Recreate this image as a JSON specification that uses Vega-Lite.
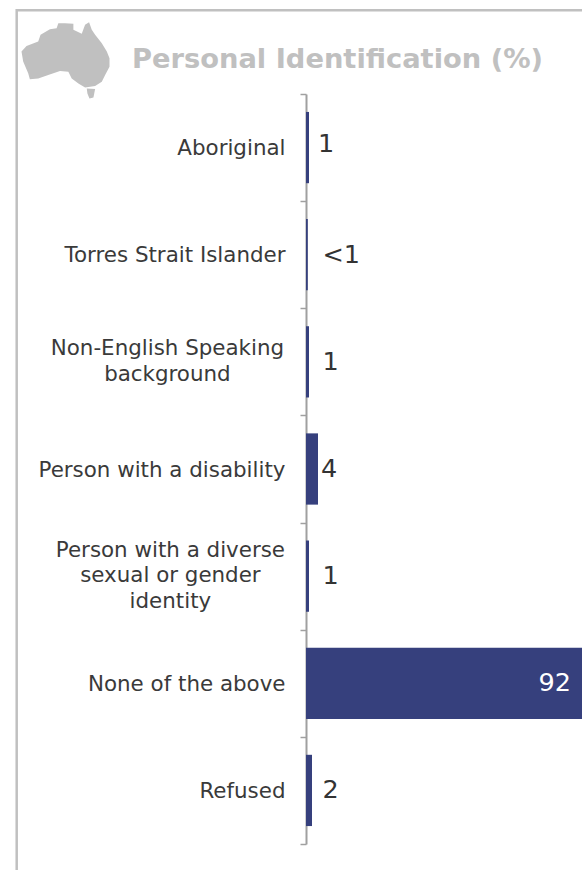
{
"$schema":"https://vega.github.io/schema/vega-lite/v6.json",
"width":276,"height":750,
"autosize":"none",
"padding":{"left":306,"top":94,"right":0,"bottom":26},
"background":"white",
"view":{"stroke":null},
"layer":[
{"data":{"name":"rows","values":[
{"category":"Aboriginal","value":1,"label":"1"},
{"category":"Torres Strait Islander","value":0.6,"label":"<1"},
{"category":"Non-English Speaking\nbackground","value":1,"label":"1"},
{"category":"Person with a disability","value":4,"label":"4"},
{"category":"Person with a diverse\nsexual or gender\nidentity","value":1,"label":"1"},
{"category":"None of the above","value":92,"label":"92"},
{"category":"Refused","value":2,"label":"2"}
]},
"mark":{"type":"bar","color":"#36407d","clip":false,"height":{"band":0.665}},"encoding":{"x":{"field":"value","type":"quantitative","scale":{"domain":[0,92],"nice":false},"axis":null},
"y":{"field":"category","type":"nominal","sort":null,"scale":{"padding":0},
"axis":{"title":null,"tickBand":"extent","labelExpr":"indexof(datum.label,'\\n')>=0?'':datum.label","labelFont":"DejaVu Sans","labelFontSize":21.4,"labelColor":"#3a3a3a","labelLimit":300,"labelPadding":15,"labelOffset":1,"tickSize":6,"tickColor":"#a0a0a0","tickWidth":1.5,"domainColor":"#a0a0a0","domainWidth":2,"grid":false}}}},
{"data":{"name":"rows"},"transform":[{"filter":"length(split(datum.category,'\\n'))==2"}],"mark":{"type":"text","align":"center","baseline":"middle","lineBreak":"\n","lineHeight":25.5,"font":"DejaVu Sans","fontSize":21.4,"color":"#3a3a3a","dy":-12.75},"encoding":{"text":{"field":"category"},"x":{"datum":-46.2},"y":{"field":"category","type":"nominal","sort":null}}},
{"data":{"name":"rows"},"transform":[{"filter":"length(split(datum.category,'\\n'))==3"}],"mark":{"type":"text","align":"center","baseline":"middle","lineBreak":"\n","lineHeight":25.5,"font":"DejaVu Sans","fontSize":21.4,"color":"#3a3a3a","dy":-25.5},"encoding":{"text":{"field":"category"},"x":{"datum":-45.2},"y":{"field":"category","type":"nominal","sort":null}}},
{"data":{"name":"rows"},"transform":[{"filter":"datum.category=='Aboriginal'"}],"mark":{"type":"text","align":"left","font":"DejaVu Sans","fontSize":25.5,"color":"#333333","dy":-4},"encoding":{"text":{"field":"label"},"x":{"datum":4.0},"y":{"field":"category","type":"nominal","sort":null}}},
{"data":{"name":"rows"},"transform":[{"filter":"datum.value<10 && datum.category!='Aboriginal' && datum.value!=4"}],"mark":{"type":"text","align":"left","font":"DejaVu Sans","fontSize":25.5,"color":"#333333"},"encoding":{"text":{"field":"label"},"x":{"datum":5.5},"y":{"field":"category","type":"nominal","sort":null}}},
{"data":{"name":"rows"},"transform":[{"filter":"datum.value==4"}],"mark":{"type":"text","align":"left","font":"DejaVu Sans","fontSize":25.5,"color":"#333333"},"encoding":{"text":{"field":"label"},"x":{"datum":5.0},"y":{"field":"category","type":"nominal","sort":null}}},
{"data":{"name":"rows"},"transform":[{"filter":"datum.value>10"}],"mark":{"type":"text","align":"right","font":"DejaVu Sans","fontSize":25.5,"color":"white","dx":-11},"encoding":{"text":{"field":"label"},"x":{"field":"value","type":"quantitative"},"y":{"field":"category","type":"nominal","sort":null}}},
{"data":{"values":[{"title":"Personal Identification (%)"}]},"mark":{"type":"text","align":"left","font":"DejaVu Sans","fontSize":27.3,"fontWeight":"bold","color":"#c0c0c0"},"encoding":{"text":{"field":"title"},"x":{"value":-174},"y":{"value":-34}}},
{"data":{"values":[{"shape":"australia"}]},"mark":{"type":"point","filled":true,"opacity":1,"color":"#c0c0c0","size":7744,"clip":false,"shape":"M-1,-.198L-.886,-.327L-.62,-.426L-.567,-.578L-.354,-.707L-.202,-.73L-.163,-.844L-.011,-.844L.179,-.829L.179,-.692L.369,-.601L.445,-.806L.536,-.867L.597,-.692L.673,-.578L.825,-.388L.939,-.198L1,-.046L1,.144L.901,.335L.825,.487L.673,.586L.445,.616L.293,.525L.141,.411L.065,.259L-.125,.243L-.392,.335L-.62,.411L-.81,.433L-.848,.297L-.962,.03ZM.483,.639L.673,.654L.635,.844L.544,.867L.498,.753Z"},"encoding":{"x":{"value":-240.5},"y":{"value":-33.7}}},
{"data":{"values":[{"frame":"top"}]},"mark":{"type":"rule","color":"#c0c0c0","strokeWidth":2.5,"clip":false},"encoding":{"x":{"value":-290},"y":{"value":-83.7},"x2":{"value":276}}},
{"data":{"values":[{"frame":"left"}]},"mark":{"type":"rule","color":"#c0c0c0","strokeWidth":2.5,"clip":false},"encoding":{"x":{"value":-289.3},"y":{"value":-85},"y2":{"value":776}}}
]
}
